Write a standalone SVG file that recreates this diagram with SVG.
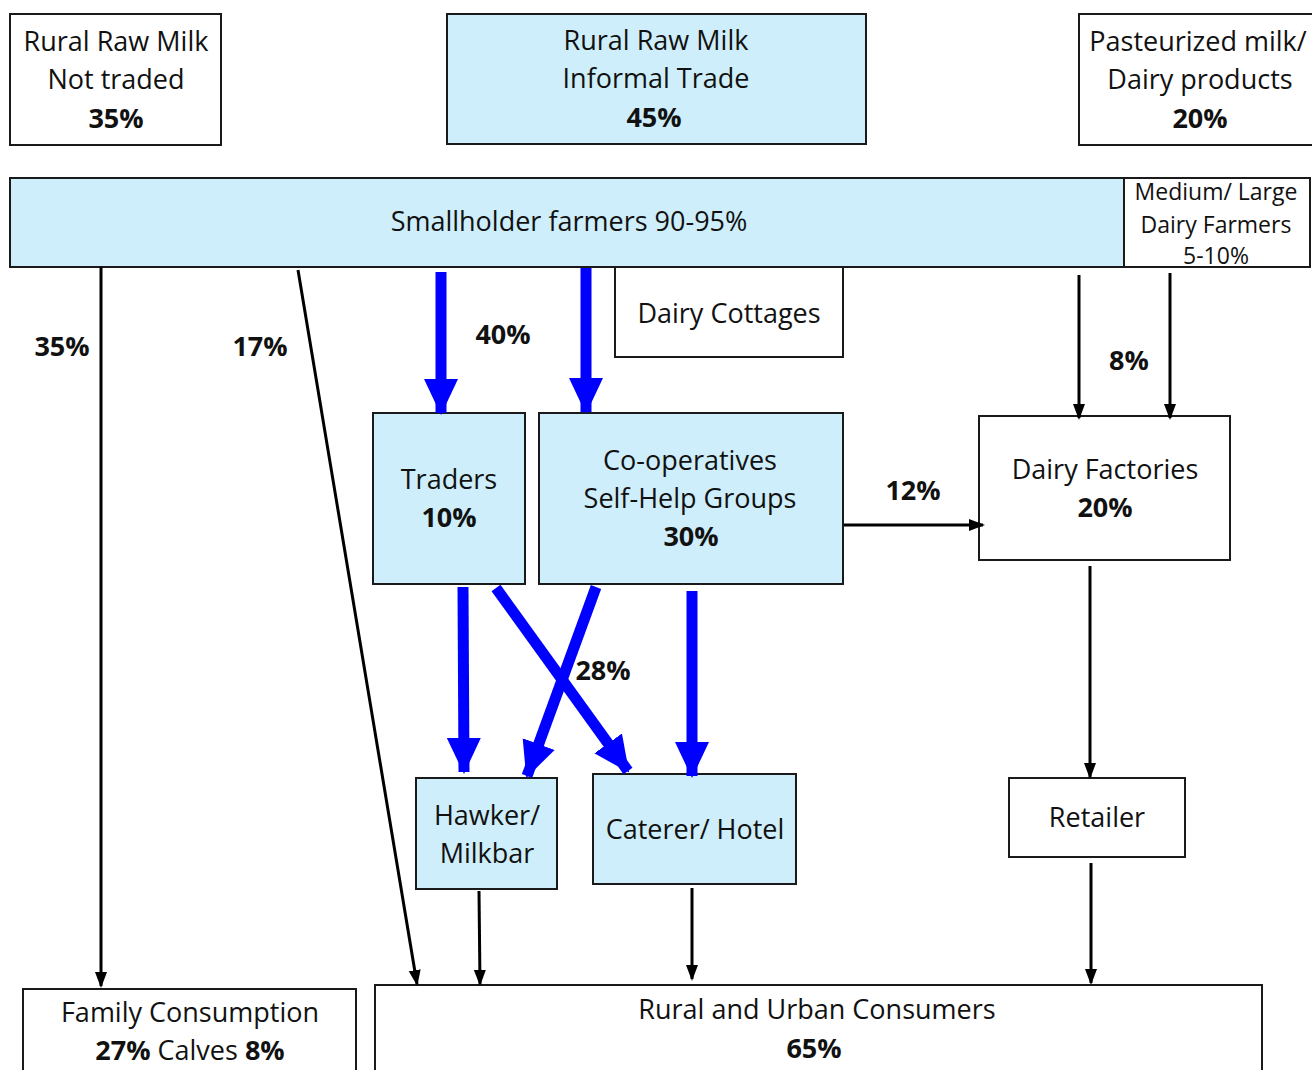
<svg xmlns="http://www.w3.org/2000/svg" width="1312" height="1070" viewBox="0 0 1312 1070">
  <style>
    .box { stroke: #1a1a1a; stroke-width: 2; }
    .blue { fill: #cdeefa; }
    .white { fill: #ffffff; }
    text { font-family: "Open Sans", "Noto Sans", "Liberation Sans", sans-serif; font-size: 27px; fill: #111; text-anchor: middle; dominant-baseline: middle; }
    .b { font-weight: bold; }
    .sm { font-size: 23px; }
    .thin { stroke: #000; stroke-width: 3; fill: none; }
    .thick { stroke: #0000ff; stroke-width: 11; fill: none; }
  </style>
  <defs>
    <marker id="ah" markerUnits="userSpaceOnUse" markerWidth="16" markerHeight="16" viewBox="0 0 16 16" refX="14" refY="8" orient="auto">
      <path d="M0,2 L16,8 L0,14 Z" fill="#000"/>
    </marker>
    <marker id="bh" markerUnits="userSpaceOnUse" markerWidth="36" markerHeight="36" viewBox="0 0 36 36" refX="34" refY="18" orient="auto">
      <path d="M0,1 L36,18 L0,35 Z" fill="#0000ff"/>
    </marker>
  </defs>

  <rect width="1312" height="1070" fill="#ffffff"/>

  <!-- top summary boxes -->
  <g id="not-traded">
    <rect class="box white" x="10" y="14" width="211" height="131"/>
    <text x="116" y="44">Rural Raw Milk</text>
    <text x="116" y="82">Not traded</text>
    <text x="116" y="121" class="b">35%</text>
  </g>
  <g id="informal-trade">
    <rect class="box blue" x="447" y="14" width="419" height="130"/>
    <text x="656" y="43">Rural Raw Milk</text>
    <text x="656" y="81">Informal Trade</text>
    <text x="654" y="120" class="b">45%</text>
  </g>
  <g id="pasteurized">
    <rect class="box white" x="1079" y="14" width="240" height="131"/>
    <text x="1198" y="44">Pasteurized milk/</text>
    <text x="1200" y="82">Dairy products</text>
    <text x="1200" y="121" class="b">20%</text>
  </g>

  <!-- producers -->
  <g id="smallholders">
    <rect class="box blue" x="10" y="178" width="1114" height="89"/>
    <text x="569" y="224">Smallholder farmers 90-95%</text>
  </g>
  <g id="medium-large">
    <rect class="box white" x="1124" y="178" width="186" height="89"/>
    <text x="1216" y="194" class="sm">Medium/ Large</text>
    <text x="1216" y="227" class="sm">Dairy Farmers</text>
    <text x="1216" y="258" class="sm">5-10%</text>
  </g>
  <g id="cottages">
    <rect class="box white" x="615" y="267" width="228" height="90"/>
    <text x="729" y="316">Dairy Cottages</text>
  </g>

  <!-- intermediaries -->
  <g id="traders">
    <rect class="box blue" x="373" y="413" width="152" height="171"/>
    <text x="449" y="482">Traders</text>
    <text x="449" y="520" class="b">10%</text>
  </g>
  <g id="coops">
    <rect class="box blue" x="539" y="413" width="304" height="171"/>
    <text x="690" y="463">Co-operatives</text>
    <text x="690" y="501">Self-Help Groups</text>
    <text x="691" y="539" class="b">30%</text>
  </g>
  <g id="factories">
    <rect class="box white" x="979" y="416" width="251" height="144"/>
    <text x="1105" y="472">Dairy Factories</text>
    <text x="1105" y="510" class="b">20%</text>
  </g>

  <!-- outlets -->
  <g id="hawker">
    <rect class="box blue" x="416" y="778" width="141" height="111"/>
    <text x="487" y="818">Hawker/</text>
    <text x="487" y="856">Milkbar</text>
  </g>
  <g id="caterer">
    <rect class="box blue" x="593" y="774" width="203" height="110"/>
    <text x="695" y="832">Caterer/ Hotel</text>
  </g>
  <g id="retailer">
    <rect class="box white" x="1009" y="778" width="176" height="79"/>
    <text x="1097" y="820">Retailer</text>
  </g>

  <!-- end uses -->
  <g id="family">
    <rect class="box white" x="23" y="989" width="333" height="100"/>
    <text x="190" y="1015">Family Consumption</text>
    <text x="190" y="1053"><tspan class="b">27%</tspan> Calves <tspan class="b">8%</tspan></text>
  </g>
  <g id="consumers">
    <rect class="box white" x="375" y="985" width="887" height="100"/>
    <text x="817" y="1012">Rural and Urban Consumers</text>
    <text x="814" y="1051" class="b">65%</text>
  </g>

  <!-- flows -->
  <g id="connectors">
    <line class="thin" x1="101" y1="267" x2="101" y2="986" marker-end="url(#ah)"/>
    <line class="thin" x1="298" y1="270" x2="417" y2="984" marker-end="url(#ah)"/>
    <line class="thin" x1="1079" y1="275" x2="1079" y2="418" marker-end="url(#ah)"/>
    <line class="thin" x1="1170" y1="273" x2="1170" y2="418" marker-end="url(#ah)"/>
    <line class="thin" x1="844" y1="525" x2="983" y2="525" marker-end="url(#ah)"/>
    <line class="thin" x1="1090" y1="566" x2="1090" y2="777" marker-end="url(#ah)"/>
    <line class="thin" x1="479" y1="891" x2="480" y2="984" marker-end="url(#ah)"/>
    <line class="thin" x1="692" y1="888" x2="692" y2="979" marker-end="url(#ah)"/>
    <line class="thin" x1="1091" y1="863" x2="1091" y2="983" marker-end="url(#ah)"/>

    <line class="thick" x1="441" y1="272" x2="441" y2="413" marker-end="url(#bh)"/>
    <line class="thick" x1="586" y1="268" x2="586" y2="412" marker-end="url(#bh)"/>
    <line class="thick" x1="463" y1="587" x2="464" y2="772" marker-end="url(#bh)"/>
    <line class="thick" x1="496" y1="588" x2="628" y2="771" marker-end="url(#bh)"/>
    <line class="thick" x1="596" y1="587" x2="527" y2="776" marker-end="url(#bh)"/>
    <line class="thick" x1="692" y1="591" x2="692" y2="776" marker-end="url(#bh)"/>

    <text x="62" y="349" class="b">35%</text>
    <text x="260" y="349" class="b">17%</text>
    <text x="503" y="337" class="b">40%</text>
    <text x="1129" y="363" class="b">8%</text>
    <text x="913" y="493" class="b">12%</text>
    <text x="603" y="673" class="b">28%</text>
  </g>
</svg>
